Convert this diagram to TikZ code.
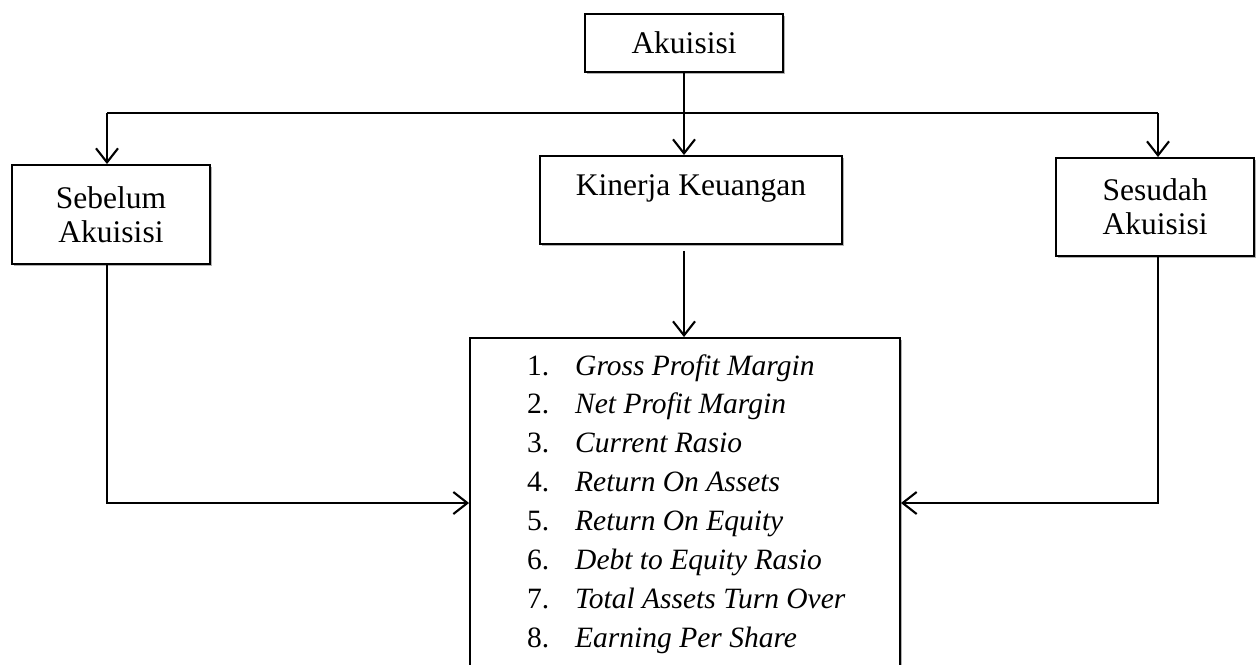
\documentclass[tikz,border=0pt]{standalone}
\usepackage{fontspec}
\setmainfont{Liberation Serif}
\usetikzlibrary{arrows.meta,shadows}
\begin{document}
\begin{tikzpicture}[x=1pt,y=-1pt,
  box/.style={draw, line width=1.9pt, fill=white, inner sep=0pt,
    drop shadow={shadow xshift=1.5pt, shadow yshift=-1.5pt, fill=black, opacity=0.3}},
  lbl/.style={font=\fontsize{31.5}{34}\selectfont, align=center},
  conn/.style={line width=2.1pt},
  arr/.style={conn, -{Straight Barb[length=14pt,width=22pt,line width=2.1pt]}},
  num/.style={font=\fontsize{29.5}{35}\selectfont, anchor=base west, inner sep=0pt},
  itm/.style={font=\fontsize{29.5}{35}\selectfont\itshape, anchor=base west, inner sep=0pt}
]
\useasboundingbox (0,0) rectangle (1257,664);
\fill[white] (0,0) rectangle (1257,664);
% boxes
\node[box, lbl, minimum width=198pt, minimum height=58pt] (ak) at (684,43) {Akuisisi};
\node[box, lbl, minimum width=198pt, minimum height=99pt] (seb) at (111,214.5) {Sebelum\\Akuisisi};
\node[box, lbl, minimum width=302pt, minimum height=88pt] (kin) at (691,200) {};
\node[lbl, anchor=base, inner sep=0pt] (kintext) at (691,195) {Kinerja Keuangan};
\node[box, lbl, minimum width=198pt, minimum height=98pt] (ses) at (1155,207) {Sesudah\\Akuisisi};
\node[box, minimum width=430pt, minimum height=330pt] (list) at (685,503) {};
% list items
\foreach \i/\t [count=\k from 0] in {1/Gross Profit Margin, 2/Net Profit Margin, 3/Current Rasio, 4/Return On Assets, 5/Return On Equity, 6/Debt to Equity Rasio, 7/Total Assets Turn Over, 8/Earning Per Share}{
  \node[num] (n\i) at (527,375+38.86*\k) {\i.};
  \node[itm] (t\i) at (575,375+38.86*\k) {\t};
}
% connectors
\coordinate (hl) at (107,113);
\coordinate (hr) at (1158,113);
\draw[conn] (hl) -- (hr);
\draw[arr] (hl) -- (hl |- seb.north);
\draw[arr] (hr) -- (hr |- ses.north);
\draw[arr] (ak.south) -- (ak.south |- kin.north);
\draw[arr, shorten <=6pt] (ak.south |- kin.south) -- (ak.south |- list.north);
\draw[arr] (hl |- seb.south) |- (list.west);
\draw[arr] (hr |- ses.south) |- (list.east);
\end{tikzpicture}
\end{document}
